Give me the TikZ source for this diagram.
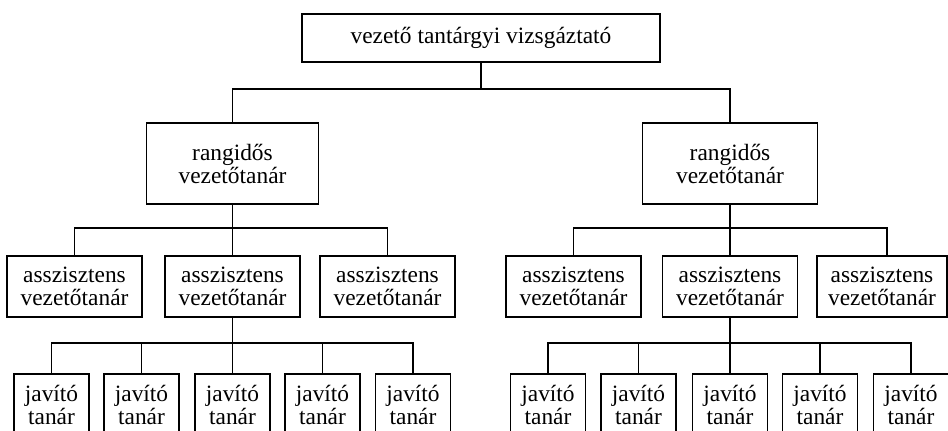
\documentclass[tikz,border=0pt]{standalone}
\usepackage{fontspec}
\setmainfont{Liberation Serif}
\begin{document}
\begin{tikzpicture}[x=1pt,y=-1pt,
  box/.style={draw, line width=1.2pt, inner sep=0pt, align=center,
    font=\fontsize{23.4pt}{23pt}\selectfont},
  line/.style={draw, line width=1.2pt}]
\useasboundingbox (0,0) rectangle (948,431);
\clip (0,0) rectangle (948,431);
% top
\node[box, minimum width=358pt, minimum height=48pt] (top) at (481,38) {vezető tantárgyi vizsgáztató};
% level 2
\node[box, minimum width=172pt, minimum height=81pt] (r1) at (232.5,163.5) {rangidős\\vezetőtanár};
\node[box, minimum width=175pt, minimum height=81pt] (r2) at (730,163.5) {rangidős\\vezetőtanár};
% level 3
\foreach \n/\x in {a1/74.5,a2/232.5,a3/387.5,a4/573.5,a5/730}
  \node[box, minimum width=135pt, minimum height=61pt] (\n) at (\x,286.5) {asszisztens\\vezetőtanár};
\node[box, minimum width=130pt, minimum height=61pt] (a6) at (882,286.5) {asszisztens\\vezetőtanár};
% level 4
\foreach \n/\x in {j1/51.5,j2/141.5,j3/232.5,j4/322.5,j5/413,k1/548,k2/638.5,k3/730,k4/820,k5/911}
  \node[box, minimum width=75pt, minimum height=61pt] (\n) at (\x,404.5) {javító\\tanár};
% bus levels
\coordinate (b0) at (0,89);
\coordinate (b1) at (0,228);
\coordinate (b2) at (0,343);
\coordinate (a6n) at ([xshift=5pt]a6.north);
% connectors
\path[line] (top.south) -- (top.south |- b0);
\path[line] (r1.north) |- (top.south |- b0) -| (r2.north);
\path[line] (r1.south) -- (a2.north);
\path[line] (a1.north) |- (r1.south |- b1) -| (a3.north);
\path[line] (r2.south) -- (a5.north);
\path[line] (a4.north) |- (r2.south |- b1) -| (a6n);
\path[line] (a2.south) -- (j3.north);
\path[line] (j1.north) |- (a2.south |- b2) -| (j5.north);
\path[line] (j2.north) -- (j2.north |- b2);
\path[line] (j4.north) -- (j4.north |- b2);
\path[line] (a5.south) -- (k3.north);
\path[line] (k1.north) |- (a5.south |- b2) -| (k5.north);
\path[line] (k2.north) -- (k2.north |- b2);
\path[line] (k4.north) -- (k4.north |- b2);
\end{tikzpicture}
\end{document}
